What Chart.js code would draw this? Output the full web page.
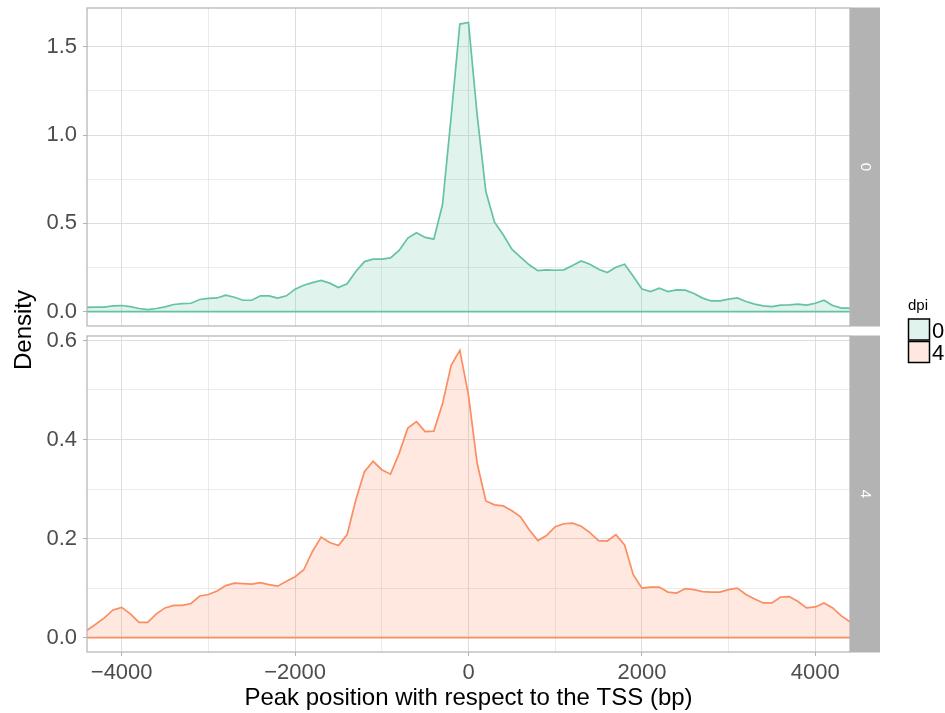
<!DOCTYPE html>
<html>
<head>
<meta charset="utf-8">
<title>Peak position density around the TSS</title>
<script src="https://cdn.jsdelivr.net/npm/chart.js@4.4.1/dist/chart.umd.min.js"></script>
<style>
  html, body { margin: 0; padding: 0; background: #fff; }
  #wrap { position: relative; width: 945px; height: 713px; }
  #wrap canvas { position: absolute; left: 0; top: 0; }
</style>
</head>
<body>
<div id="wrap">
  <canvas id="panel4" width="945" height="713"></canvas>
  <canvas id="panel0" width="945" height="713"></canvas>
</div>
<script>
// distance to the TSS (bp) where the density is evaluated
const positions = [
  -4400, -4300, -4200, -4100, -4000, -3900, -3800, -3700, -3600, -3500,
  -3400, -3300, -3200, -3100, -3000, -2900, -2800, -2700, -2600, -2500,
  -2400, -2300, -2200, -2100, -2000, -1900, -1800, -1700, -1600, -1500,
  -1400, -1300, -1200, -1100, -1000, -900, -800, -700, -600, -500,
  -400, -300, -200, -100, 0, 100, 200, 300, 400, 500,
  600, 700, 800, 900, 1000, 1100, 1200, 1300, 1400, 1500,
  1600, 1700, 1800, 1900, 2000, 2100, 2200, 2300, 2400, 2500,
  2600, 2700, 2800, 2900, 3000, 3100, 3200, 3300, 3400, 3500,
  3600, 3700, 3800, 3900, 4000, 4100, 4200, 4300, 4400
];

// peak density, dpi 0
const density0 = [
  0.023, 0.025, 0.025, 0.032, 0.034, 0.028, 0.017, 0.011, 0.017, 0.026,
  0.040, 0.045, 0.047, 0.068, 0.074, 0.077, 0.093, 0.081, 0.064, 0.064,
  0.089, 0.089, 0.076, 0.089, 0.127, 0.149, 0.164, 0.176, 0.161, 0.136,
  0.157, 0.227, 0.283, 0.297, 0.297, 0.304, 0.346, 0.416, 0.446, 0.420,
  0.410, 0.605, 1.105, 1.629, 1.638, 1.113, 0.680, 0.506, 0.435, 0.353,
  0.308, 0.265, 0.232, 0.236, 0.234, 0.236, 0.261, 0.287, 0.268, 0.240,
  0.221, 0.251, 0.268, 0.200, 0.128, 0.113, 0.132, 0.113, 0.123, 0.121,
  0.102, 0.076, 0.060, 0.060, 0.070, 0.077, 0.057, 0.042, 0.032, 0.028,
  0.036, 0.038, 0.042, 0.036, 0.047, 0.064, 0.034, 0.019, 0.019
];

// peak density, dpi 4
const density4 = [
  0.015, 0.027, 0.040, 0.056, 0.061, 0.048, 0.031, 0.031, 0.048, 0.060,
  0.065, 0.065, 0.069, 0.084, 0.087, 0.094, 0.105, 0.110, 0.109, 0.108,
  0.111, 0.107, 0.104, 0.114, 0.123, 0.137, 0.174, 0.203, 0.192, 0.186,
  0.208, 0.278, 0.335, 0.356, 0.339, 0.330, 0.372, 0.423, 0.436, 0.416,
  0.417, 0.472, 0.550, 0.580, 0.489, 0.352, 0.276, 0.268, 0.266, 0.256,
  0.244, 0.218, 0.196, 0.206, 0.224, 0.230, 0.231, 0.225, 0.212, 0.196,
  0.195, 0.208, 0.187, 0.127, 0.100, 0.102, 0.102, 0.092, 0.090, 0.099,
  0.097, 0.093, 0.092, 0.092, 0.097, 0.100, 0.087, 0.078, 0.070, 0.070,
  0.082, 0.083, 0.073, 0.060, 0.062, 0.070, 0.060, 0.044, 0.032
];

const dpiLevels = ['0', '4'];

const xTickValues = [-4000, -2000, 0, 2000, 4000];
const xTickLabels = ['\u22124000', '\u22122000', '0', '2000', '4000'];
const xMinorValues = [-3000, -1000, 1000, 3000];

const yTickValues0 = [0, 0.5, 1.0, 1.5];
const yTickLabels0 = ['0.0', '0.5', '1.0', '1.5'];
const yMinorValues0 = [0.25, 0.75, 1.25];

const yTickValues4 = [0, 0.2, 0.4, 0.6];
const yTickLabels4 = ['0.0', '0.2', '0.4', '0.6'];
const yMinorValues4 = [0.1, 0.3, 0.5];

const FONT = '"Liberation Sans", Arial, Helvetica, sans-serif';
const GRID = '#DEDEDE';
const FRAME = '#B3B3B3';
const TEXT = '#4D4D4D';
const LINE0 = '#66C2A5', FILL0 = 'rgba(102,194,165,0.2)';
const LINE4 = '#FC8D62', FILL4 = 'rgba(252,141,98,0.2)';

function tickList(major, minor) {
  return major.concat(minor).sort((a, b) => a - b).map(v => ({ value: v }));
}
function labelFor(v, major, labels) {
  const i = major.indexOf(v);
  return i < 0 ? '' : labels[i];
}

// frame, zero line and the grey strip with the facet level
const facetDecor = {
  id: 'facetDecor',
  afterDatasetsDraw(chart) {
    const ctx = chart.ctx, a = chart.chartArea;
    const ds = chart.data.datasets[0];
    const y0 = chart.scales.y.getPixelForValue(0);
    ctx.save();
    ctx.strokeStyle = ds.borderColor;
    ctx.lineWidth = ds.borderWidth;
    ctx.beginPath();
    ctx.moveTo(a.left, y0);
    ctx.lineTo(a.right, y0);
    ctx.stroke();

    ctx.fillStyle = FRAME;
    ctx.fillRect(a.right, a.top - 0.5, 30, a.bottom - a.top + 1);
    ctx.strokeStyle = FRAME;
    ctx.lineWidth = 1.2;
    ctx.strokeRect(a.left, a.top, a.right - a.left, a.bottom - a.top);

    ctx.translate(a.right + 15, (a.top + a.bottom) / 2);
    ctx.rotate(Math.PI / 2);
    ctx.fillStyle = '#fff';
    ctx.font = '15px ' + FONT;
    ctx.textAlign = 'center';
    ctx.textBaseline = 'middle';
    ctx.fillText(ds.label, 0, 0);
    ctx.restore();
  }
};

// y title and the fill legend, drawn once on the upper canvas
const sideText = {
  id: 'sideText',
  afterDraw(chart) {
    const ctx = chart.ctx;
    ctx.save();
    ctx.fillStyle = '#000';
    ctx.font = '24px ' + FONT;
    ctx.translate(31, 330);
    ctx.rotate(-Math.PI / 2);
    ctx.textAlign = 'center';
    ctx.textBaseline = 'alphabetic';
    ctx.fillText('Density', 0, 0);
    ctx.restore();

    ctx.save();
    ctx.fillStyle = '#000';
    ctx.font = '15px ' + FONT;
    ctx.textAlign = 'left';
    ctx.textBaseline = 'alphabetic';
    ctx.fillText('dpi', 908, 309.5);
    const fills = [FILL0, FILL4];
    dpiLevels.forEach((lvl, i) => {
      const top = 319 + i * 22.5;
      ctx.fillStyle = '#fff';
      ctx.fillRect(908.5, top, 21, 21);
      ctx.fillStyle = fills[i];
      ctx.fillRect(908.5, top, 21, 21);
      ctx.strokeStyle = '#000';
      ctx.lineWidth = 1.5;
      ctx.strokeRect(908.5, top, 21, 21);
      ctx.fillStyle = '#000';
      ctx.font = '22px ' + FONT;
      ctx.fillText(lvl, 932, top + 18.5);
    });
    ctx.restore();
  }
};

const bottomText = {
  id: 'bottomText',
  afterDraw(chart) {
    const ctx = chart.ctx, a = chart.chartArea;
    ctx.save();
    ctx.fillStyle = '#000';
    ctx.font = '24px ' + FONT;
    ctx.textAlign = 'center';
    ctx.textBaseline = 'alphabetic';
    ctx.fillText('Peak position with respect to the TSS (bp)', (a.left + a.right) / 2, 705);
    ctx.restore();
  }
};

function facetPanel(cfg) {
  return new Chart(document.getElementById(cfg.canvas), {
    type: 'line',
    data: {
      datasets: [{
        label: cfg.level,
        data: positions.map((x, i) => ({ x: x, y: cfg.values[i] })),
        borderColor: cfg.line,
        backgroundColor: cfg.fill,
        borderWidth: 1.7,
        fill: 'origin',
        pointRadius: 0,
        tension: 0
      }]
    },
    options: {
      responsive: false,
      animation: false,
      events: [],
      layout: { padding: { top: cfg.padTop, bottom: cfg.padBottom, left: 0, right: 95 } },
      plugins: { legend: { display: false }, tooltip: { enabled: false } },
      scales: {
        x: {
          type: 'linear',
          min: -4400,
          max: 4400,
          afterBuildTicks: s => { s.ticks = tickList(xTickValues, xMinorValues); },
          afterFit: s => { s.height = cfg.xHeight; s.paddingLeft = 0; s.paddingRight = 0; },
          border: { display: false },
          grid: {
            color: GRID,
            lineWidth: c => xTickValues.includes(c.tick.value) ? 1 : 0.6,
            drawTicks: cfg.showX,
            tickLength: 4,
            tickColor: c => xTickValues.includes(c.tick.value) ? FRAME : 'rgba(0,0,0,0)'
          },
          ticks: {
            display: cfg.showX,
            autoSkip: false,
            maxRotation: 0,
            padding: 4,
            color: TEXT,
            font: { family: FONT, size: 22 },
            callback: v => labelFor(v, xTickValues, xTickLabels)
          }
        },
        y: {
          min: cfg.yMin,
          max: cfg.yMax,
          afterBuildTicks: s => { s.ticks = tickList(cfg.yMajor, cfg.yMinor); },
          afterFit: s => { s.width = 87; s.paddingTop = 0; s.paddingBottom = 0; },
          border: { display: false },
          grid: {
            color: GRID,
            lineWidth: c => cfg.yMajor.includes(c.tick.value) ? 1 : 0.6,
            tickLength: 4,
            tickColor: c => cfg.yMajor.includes(c.tick.value) ? FRAME : 'rgba(0,0,0,0)'
          },
          ticks: {
            padding: 6,
            color: TEXT,
            font: { family: FONT, size: 22 },
            callback: v => labelFor(v, cfg.yMajor, cfg.yLabels)
          }
        }
      }
    },
    plugins: cfg.plugins
  });
}

facetPanel({
  canvas: 'panel0', level: dpiLevels[0], values: density0, line: LINE0, fill: FILL0,
  yMin: -0.082, yMax: 1.72, yMajor: yTickValues0, yLabels: yTickLabels0, yMinor: yMinorValues0,
  padTop: 8, padBottom: 387, xHeight: 0, showX: false,
  plugins: [facetDecor, sideText]
});

facetPanel({
  canvas: 'panel4', level: dpiLevels[1], values: density4, line: LINE4, fill: FILL4,
  yMin: -0.029, yMax: 0.609, yMajor: yTickValues4, yLabels: yTickLabels4, yMinor: yMinorValues4,
  padTop: 336, padBottom: 0, xHeight: 61, showX: true,
  plugins: [facetDecor, bottomText]
});
</script>
</body>
</html>
